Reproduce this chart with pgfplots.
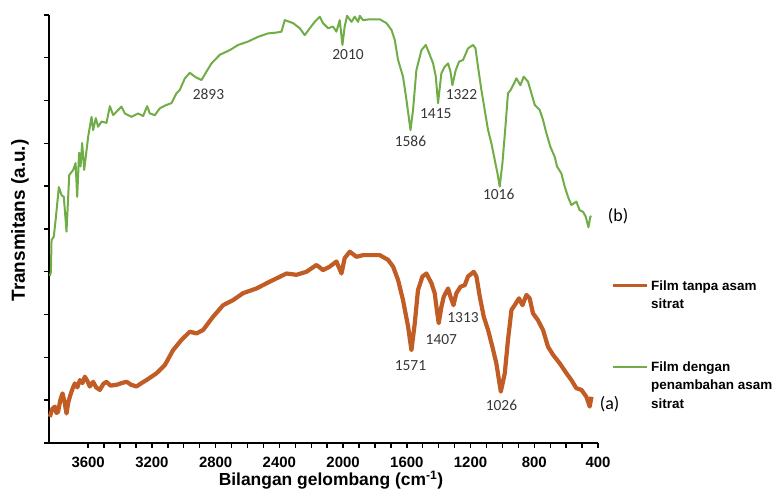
\documentclass[border=0pt]{standalone}
\usepackage{pgfplots}
\pgfplotsset{compat=1.18}
\usepackage{fontspec}
\setmainfont{Liberation Sans}
\newfontfamily\calfont{Carlito}
\definecolor{grn}{RGB}{112,173,71}
\definecolor{org}{RGB}{192,92,36}
\definecolor{lbl}{RGB}{55,55,55}

\begin{document}
\begin{tikzpicture}
\begin{axis}[
  at={(0,0)}, anchor=south west,
  width=549bp, height=428bp, scale only axis,
  x dir=reverse, xmin=400, xmax=3846, ymin=0, ymax=10,
  axis lines=left, axis line style={-, line width=1.6bp},
  xtick={400,800,...,3600}, minor x tick num=3,
  ytick={0,1,...,10}, yticklabels={},
  tick align=outside, major tick length=5bp, minor tick length=5bp,
  every tick/.style={black, line width=1.4bp},
  xticklabel style={font=\fontsize{15}{18}\selectfont\bfseries, yshift=-6bp,
    /pgf/number format/set thousands separator={},
    /pgf/number format/assume math mode=true},
  xlabel={Bilangan gelombang (cm\textsuperscript{-1})},
  ylabel={Transmitans (a.u.)},
  xlabel style={font=\fontsize{17.5}{20}\selectfont\bfseries,
    at={(axis description cs:0.5,0)}, anchor=center, yshift=-37bp, xshift=7.5bp},
  ylabel style={font=\fontsize{19}{22}\selectfont\bfseries,
    at={(axis description cs:0,0.52)}, anchor=center, yshift=29bp},
  clip=false,
  legend style={draw=none, fill=none, at={(axis description cs:1.0273,0.388)},
    anchor=north west, font=\fontsize{13.5}{18.5}\selectfont\bfseries,
    row sep=67bp, column sep=4bp, inner sep=0pt,
    nodes={inner sep=0pt}, cells={anchor=base west}},
]
% (a) Film tanpa asam sitrat
\addplot[org, line width=4.2bp, line join=round,
  legend image code/.code={\path[fill=org, draw=none] (0bp,3.4bp) rectangle (34bp,5.6bp);}] coordinates {
(3841,0.61) (3825,0.80) (3809,0.85) (3799,0.70) (3789,0.73) (3775,1.00) (3761,1.16)
(3748,0.95) (3736,0.69) (3725,0.95) (3715,1.08) (3700,1.25) (3684,1.39) (3668,1.30)
(3652,1.47) (3636,1.40) (3621,1.55) (3605,1.45) (3590,1.32) (3569,1.43) (3550,1.30)
(3527,1.24) (3505,1.38) (3485,1.43) (3460,1.34) (3422,1.36) (3390,1.40) (3359,1.43)
(3330,1.36) (3297,1.32) (3265,1.40) (3234,1.47) (3171,1.63) (3119,1.82) (3067,2.17)
(3014,2.41) (2962,2.60) (2920,2.56) (2879,2.64) (2816,2.95) (2753,3.22) (2690,3.34)
(2628,3.50) (2544,3.61) (2460,3.77) (2355,3.96) (2293,3.93) (2230,4.00) (2167,4.16)
(2126,4.04) (2084,4.12) (2042,4.24) (2010,3.96) (1990,4.32) (1958,4.47) (1916,4.35)
(1875,4.39) (1833,4.39) (1770,4.39) (1718,4.28) (1686,4.12) (1655,3.81) (1624,3.34)
(1592,2.72) (1571,2.17) (1550,2.80) (1530,3.57) (1502,3.89) (1477,3.96) (1445,3.73)
(1425,3.50) (1414,3.18) (1400,2.80) (1383,3.18) (1368,3.42) (1341,3.61) (1326,3.42)
(1307,3.22) (1289,3.50) (1263,3.65) (1236,3.69) (1216,3.89) (1180,4.00) (1163,3.89)
(1142,3.42) (1117,2.95) (1090,2.64) (1063,2.25) (1038,1.86) (1010,1.20) (985,1.63)
(965,2.41) (943,3.11) (923,3.22) (896,3.38) (874,3.22) (849,3.46) (829,3.38)
(808,3.03) (777,2.87) (745,2.64) (714,2.25) (682,2.06) (640,1.86) (598,1.63)
(567,1.47) (536,1.28) (504,1.24) (473,1.08) (452,0.85) (441,1.08)
};
\addlegendentry{\begin{tabular}[t]{@{}l@{}}Film tanpa asam\\sitrat\end{tabular}}
% (b) Film dengan penambahan asam sitrat
\addplot[grn, line width=2bp, line join=round,
  legend image code/.code={\path[fill=grn, draw=none] (0bp,3.6bp) rectangle (34bp,5.4bp);}] coordinates {
(3840,3.90) (3834,4.00) (3830,4.74) (3816,4.82) (3803,5.26) (3784,5.98) (3767,5.79)
(3753,5.75) (3736,4.94) (3719,6.26) (3694,6.38) (3679,6.54) (3669,5.75) (3657,6.78)
(3648,6.46) (3638,7.01) (3625,6.38) (3600,7.16) (3579,7.62) (3569,7.31) (3552,7.59)
(3538,7.39) (3516,7.51) (3485,7.48) (3464,7.87) (3443,7.66) (3412,7.78) (3391,7.86)
(3370,7.70) (3328,7.62) (3287,7.70) (3255,7.64) (3230,7.87) (3213,7.70) (3182,7.66)
(3150,7.82) (3108,7.90) (3077,7.94) (3046,8.17) (3025,8.25) (2993,8.52) (2962,8.65)
(2931,8.56) (2889,8.48) (2857,8.68) (2826,8.87) (2774,9.07) (2711,9.18) (2659,9.30)
(2596,9.38) (2534,9.49) (2471,9.57) (2418,9.59) (2387,9.61) (2366,9.88) (2314,9.81)
(2272,9.69) (2241,9.53) (2209,9.69) (2178,9.84) (2146,9.96) (2126,9.81) (2094,9.69)
(2063,9.73) (2042,9.61) (2021,9.88) (2004,9.30) (1990,9.73) (1975,9.98) (1947,9.84)
(1927,9.96) (1906,9.84) (1895,9.98) (1875,9.88) (1833,9.90) (1770,9.90) (1728,9.81)
(1696,9.65) (1676,9.42) (1655,8.95) (1624,8.56) (1602,8.01) (1577,7.31) (1561,7.78)
(1540,8.71) (1508,9.18) (1481,9.30) (1456,9.07) (1435,8.87) (1418,8.56) (1404,7.94)
(1383,8.64) (1362,8.79) (1341,8.87) (1326,8.68) (1314,8.36) (1293,8.71) (1272,8.91)
(1247,8.95) (1216,9.22) (1184,9.30) (1169,9.22) (1153,8.79) (1132,8.25) (1111,7.78)
(1090,7.31) (1069,7.00) (1048,6.61) (1031,6.30) (1017,5.99) (1000,6.53) (981,7.39)
(965,8.17) (948,8.25) (933,8.36) (912,8.52) (887,8.36) (866,8.56) (839,8.44)
(818,8.17) (797,7.90) (766,7.78) (745,7.55) (724,7.24) (699,6.92) (672,6.69)
(657,6.46) (630,6.30) (609,5.99) (588,5.75) (567,5.56) (536,5.64) (515,5.44)
(494,5.40) (477,5.29) (460,5.04) (448,5.29) (441,5.30)
};
\addlegendentry{\begin{tabular}[t]{@{}l@{}}Film dengan\\penambahan asam\\sitrat\end{tabular}}
% peak labels
\begin{scope}[every node/.style={font=\calfont\fontsize{15.5}{18}\selectfont, text=lbl}]
\node at (axis cs:2845,8.15) {2893};
\node at (axis cs:1969,9.07) {2010};
\node at (axis cs:1577,7.04) {1586};
\node at (axis cs:1418,7.70) {1415};
\node at (axis cs:1257,8.15) {1322};
\node at (axis cs:1023,5.82) {1016};
\node at (axis cs:1577,1.82) {1571};
\node at (axis cs:1383,2.42) {1407};
\node at (axis cs:1247,2.94) {1313};
\node at (axis cs:1006,0.87) {1026};
\end{scope}
\node[font=\calfont\fontsize{18}{20}\selectfont, text=black] at (axis cs:274,5.29) {(b)};
\node[font=\calfont\fontsize{18}{20}\selectfont, text=black] at (axis cs:327,0.91) {(a)};
\end{axis}
\path[use as bounding box] (-49bp,-55bp) rectangle (727bp,443bp);
\end{tikzpicture}
\end{document}
